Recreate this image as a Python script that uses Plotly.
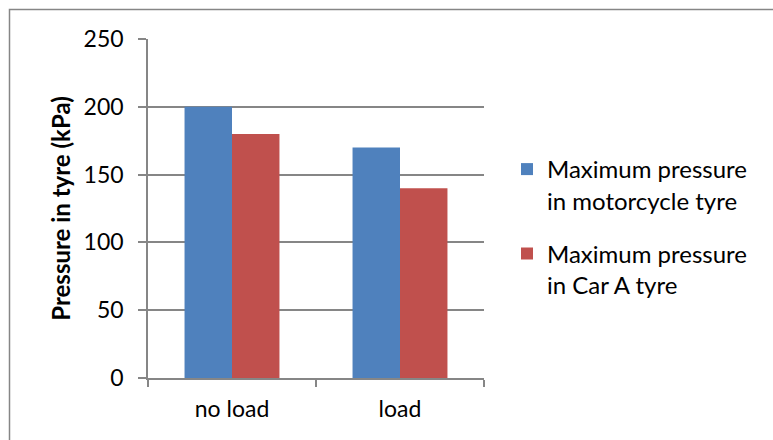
import plotly.graph_objects as go

categories = ["no load", "load"]
motorcycle = [200, 170]
car_a = [180, 140]
series_names = ["Maximum pressure<br>in motorcycle tyre", "Maximum pressure<br>in Car A tyre"]
y_ticks = [0, 50, 100, 150, 200, 250]

W, H = 773, 440
L, R, T, B = 148, 289, 39, 62
pw, ph = W - L - R, H - T - B

FONT = "Lato"
fig = go.Figure()
fig.add_trace(go.Bar(x=categories, y=motorcycle, name=series_names[0], legendgroup="a",
                     marker=dict(color="#4F81BD", line=dict(width=0))))
fig.add_trace(go.Bar(x=categories, y=car_a, name=series_names[1], legendgroup="b",
                     marker=dict(color="#C0504D", line=dict(width=0))))

def px_x(p):
    return (p - L) / pw

def px_y(p):
    return 1 - (p - T) / ph

fig.update_layout(
    width=W, height=H,
    margin=dict(l=L, r=R, t=T, b=B, pad=0),
    paper_bgcolor="white", plot_bgcolor="white",
    barmode="group", bargap=0.435, bargroupgap=0,
    font=dict(family=FONT, size=22, color="black"),
    showlegend=True,
    legend=dict(x=px_x(507), y=px_y(147), xanchor="left", yanchor="top",
                valign="top", font=dict(size=24), tracegroupgap=19,
                traceorder="grouped", bgcolor="rgba(0,0,0,0)"),
    xaxis=dict(showgrid=False, showline=True, linecolor="#868686", linewidth=1.5,
               ticks="outside", ticklen=7, tickcolor="#868686", tickwidth=1.5,
               tickson="boundaries", ticklabelstandoff=10,
               tickfont=dict(size=23)),
    yaxis=dict(range=[0, 250], tickvals=y_ticks, showgrid=True, gridcolor="#868686",
               gridwidth=1.5, showline=True, linecolor="#868686", linewidth=1.5,
               ticks="outside", ticklen=8, tickcolor="#868686", tickwidth=1.5,
               ticklabelstandoff=10, zeroline=False,
               tickfont=dict(size=23),
               title=dict(text="<b>Pressure in tyre (kPa)</b>", font=dict(size=24),
                          standoff=6)),
    shapes=[dict(type="rect", xref="paper", yref="paper",
                 x0=px_x(9.5), x1=px_x(800), y0=px_y(470), y1=px_y(9.5),
                 line=dict(color="#868686", width=1.5), layer="below")],
)

fig.write_html("out.html", config={"displayModeBar": False},
               post_script="document.body.style.margin='0px';")
